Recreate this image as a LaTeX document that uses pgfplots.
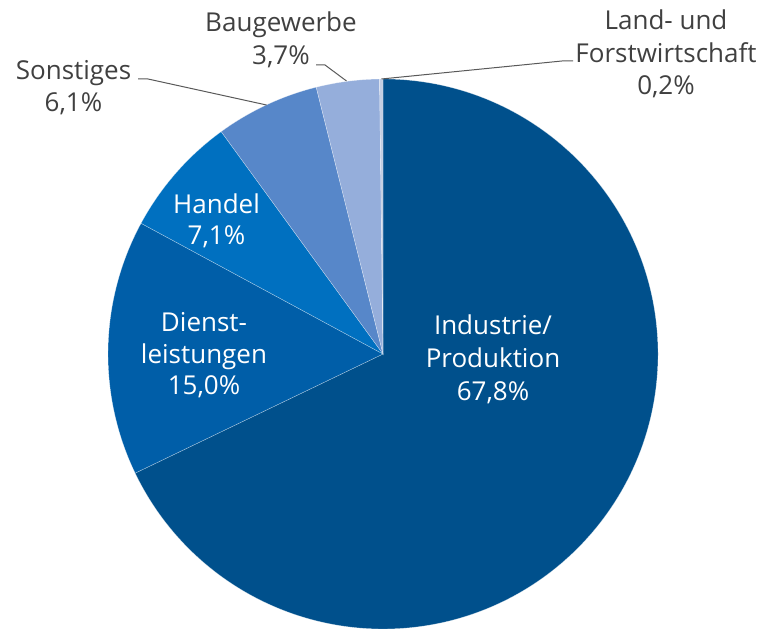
\documentclass[border=0pt]{standalone}
\usepackage{pgfplots}
\usepackage{pgfplotstable}
\pgfplotsset{compat=1.18}
\usepackage{fontspec}
\setmainfont{Open Sans}
\definecolor{cInd}{HTML}{00508C}
\definecolor{cDie}{HTML}{005EA8}
\definecolor{cHan}{HTML}{0070C0}
\definecolor{cSon}{HTML}{5787C9}
\definecolor{cBau}{HTML}{95AEDB}
\definecolor{cLan}{HTML}{C3CEE3}
\definecolor{cTxt}{HTML}{404040}
\definecolor{cLine}{HTML}{595959}
\pgfplotstableread[col sep=comma]{
label,value,color
Industrie,67.8,cInd
Dienstleistungen,15.0,cDie
Handel,7.1,cHan
Sonstiges,6.1,cSon
Baugewerbe,3.7,cBau
Land,0.2,cLan
}\piedata
\begin{document}
\begin{tikzpicture}
\begin{axis}[
  width=764bp, height=630bp, scale only axis,
  xmin=0, xmax=764, ymin=0, ymax=630,
  hide axis, clip=false,
]
\path (axis cs:0,0) rectangle (axis cs:764,630);
\pgfplotsextra{%
  \pgfplotstablegetrowsof{\piedata}%
  \pgfmathtruncatemacro{\lastrow}{\pgfplotsretval-1}%
  \gdef\pietotal{0}%
  \foreach \i in {0,...,\lastrow}{%
    \pgfplotstablegetelem{\i}{value}\of{\piedata}%
    \pgfmathsetmacro{\pietmp}{\pietotal+\pgfplotsretval}%
    \xdef\pietotal{\pietmp}%
  }%
  \gdef\piestart{90}%
  \foreach \i in {0,...,\lastrow}{%
    \pgfplotstablegetelem{\i}{value}\of{\piedata}%
    \pgfmathsetmacro{\piend}{\piestart-(360/\pietotal)*\pgfplotsretval}%
    \pgfplotstablegetelem{\i}{color}\of{\piedata}%
    \edef\piecol{\pgfplotsretval}%
    \fill[\piecol, draw=white, draw opacity=0.5, line width=0.4bp]
      (axis cs:383,276) -- ++(\piestart:275bp)
      arc[start angle=\piestart, end angle=\piend, radius=275bp] -- cycle;
    \xdef\piestart{\piend}%
  }%
}
% leader lines
\draw[cLine, line width=1bp] (axis cs:381.5,551) -- (axis cs:562,569) -- (axis cs:573,569);
\draw[cLine, line width=1bp] (axis cs:346.5,549) -- (axis cs:325,565) -- (axis cs:316,565);
\draw[cLine, line width=1bp] (axis cs:266.5,525) -- (axis cs:148,551) -- (axis cs:138,551);
% labels
\tikzset{lbl/.style={anchor=base, inner sep=0pt, font=\fontsize{26bp}{32bp}\selectfont}}
\node[lbl, white] at (axis cs:493,295) {Industrie/};
\node[lbl, white] at (axis cs:493,262) {Produktion};
\node[lbl, white] at (axis cs:493,229) {67,8\%};
\node[lbl, white] at (axis cs:204,298.4) {Dienst-};
\node[lbl, white] at (axis cs:204,266.5) {leistungen};
\node[lbl, white] at (axis cs:204,235) {15,0\%};
\node[lbl, white] at (axis cs:216.5,416.4) {Handel};
\node[lbl, white] at (axis cs:216.5,385) {7,1\%};
\node[lbl, cTxt] at (axis cs:73.5,550.7) {Sonstiges};
\node[lbl, cTxt] at (axis cs:73.5,518.3) {6,1\%};
\node[lbl, cTxt] at (axis cs:281,598) {Baugewerbe};
\node[lbl, cTxt] at (axis cs:281,565) {3,7\%};
\node[lbl, cTxt] at (axis cs:666,600) {Land- und};
\node[lbl, cTxt] at (axis cs:666,567) {Forstwirtschaft};
\node[lbl, cTxt] at (axis cs:666,535) {0,2\%};
\end{axis}
\end{tikzpicture}
\end{document}
